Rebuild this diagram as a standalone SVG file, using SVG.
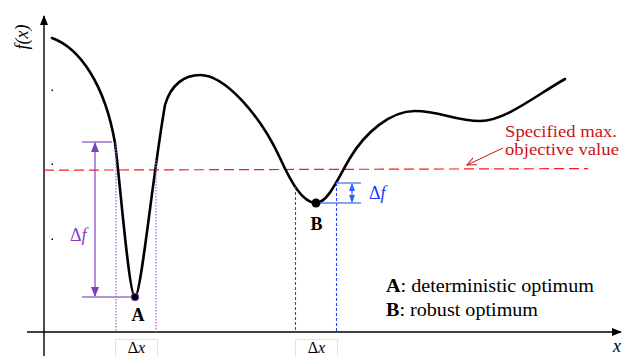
<svg xmlns="http://www.w3.org/2000/svg" width="622" height="356" viewBox="0 0 622 356">
<style>
text{font-family:"Liberation Serif","Times New Roman",serif;}
.it{font-style:italic;}
.b{font-weight:bold;}
.curve{fill:none;stroke:#000;stroke-width:2.6;stroke-linecap:round;}
.axis{stroke:#000;stroke-width:1.4;fill:none;}
.pdot{stroke:#9a6ad0;stroke-width:1.2;stroke-dasharray:1.5 1.5;fill:none;}
.bdash{stroke:#2a3cff;stroke-width:1.1;stroke-dasharray:3 2;fill:none;}
.box{fill:#fff;stroke:#f6dccb;stroke-width:1;}
</style>
<defs>
<marker id="ah" markerWidth="10" markerHeight="10" refX="9" refY="5" orient="auto" markerUnits="userSpaceOnUse"><path d="M0,1 L10,5 L0,9 Z" fill="#000"/></marker>
<marker id="pa" markerWidth="10" markerHeight="10" refX="9" refY="5" orient="auto-start-reverse" markerUnits="userSpaceOnUse"><path d="M0,1 L10,5 L0,9 Z" fill="#7a3fb8"/></marker>
<marker id="ba" markerWidth="8" markerHeight="8" refX="7" refY="4" orient="auto-start-reverse" markerUnits="userSpaceOnUse"><path d="M0,1 L8,4 L0,7 Z" fill="#3060ff"/></marker>
<marker id="ra" markerWidth="10" markerHeight="10" refX="9" refY="5" orient="auto" markerUnits="userSpaceOnUse"><path d="M0,1 L9,5 L0,9" fill="none" stroke="#cc1111" stroke-width="1"/></marker>
</defs>

<g id="axes">
<line class="axis" x1="44" y1="356" x2="44" y2="16" marker-end="url(#ah)"/>
<line class="axis" x1="27" y1="332" x2="621" y2="332" marker-end="url(#ah)"/>
<rect x="51.5" y="89.5" width="1.5" height="1.5" fill="#000"/>
<rect x="51.5" y="163.5" width="1.5" height="1.5" fill="#000"/>
<rect x="51.5" y="238.5" width="1.5" height="1.5" fill="#000"/>
<text class="it" x="0" y="0" font-size="18" text-anchor="middle" transform="translate(28,37) rotate(-90)">f(x)</text>
<text class="it" x="617" y="352" font-size="18" text-anchor="middle">x</text>
</g>

<g id="threshold">
<line x1="44" y1="170.2" x2="588" y2="168.6" stroke="#ff1a1a" stroke-width="1.2" stroke-dasharray="10 5"/>
<text x="505" y="137" font-size="17" fill="#cc1111" textLength="112" lengthAdjust="spacingAndGlyphs">Specified max.</text>
<text x="505" y="155" font-size="17" fill="#cc1111" textLength="114" lengthAdjust="spacingAndGlyphs">objective value</text>
</g>

<g id="connectors">
<line x1="503" y1="148" x2="467" y2="165" stroke="#cc1111" stroke-width="1" marker-end="url(#ra)"/>
</g>

<g id="curve">
<path class="curve" d="M52,38 C80,48 105,85 115,143 C120,180 129,297 135,297 C141,297 152,180 165,105 C171,84 185,75 200,75 C225,75 260,115 280,158 C290,180 302,203 316,203 C328,203 338,178 350,158 C365,133 390,111 415,111 C440,111 455,121 480,121 C505,121 535,96 565,79"/>
</g>

<g id="robustA">
<line class="pdot" x1="116" y1="143" x2="116" y2="332"/>
<line class="pdot" x1="156" y1="160" x2="156" y2="332"/>
<line x1="82" y1="142" x2="112" y2="142" stroke="#a07ad0" stroke-width="1.6"/>
<line x1="82" y1="297" x2="135" y2="297" stroke="#9b6fcc" stroke-width="1.6"/>
<line x1="95" y1="143" x2="95" y2="296" stroke="#8a50c4" stroke-width="1.3" marker-start="url(#pa)" marker-end="url(#pa)"/>
<text x="70" y="241" font-size="18" fill="#8040b8">Δ<tspan class="it">f</tspan></text>
<circle cx="135" cy="297" r="3.8" fill="#000" stroke="#7a3fb8" stroke-width="1"/>
<text class="b" x="138" y="321" font-size="18" text-anchor="middle">A</text>
</g>

<g id="robustB">
<line class="bdash" x1="295.5" y1="187" x2="295.5" y2="332"/>
<line class="bdash" x1="336.5" y1="183" x2="336.5" y2="332"/>
<line x1="336" y1="183" x2="361" y2="183" stroke="#5a80ff" stroke-width="1.4"/>
<line x1="316" y1="203" x2="361" y2="203" stroke="#5a80ff" stroke-width="1.4"/>
<line x1="352" y1="184" x2="352" y2="202" stroke="#3060ff" stroke-width="1.2" marker-start="url(#ba)" marker-end="url(#ba)"/>
<text x="369" y="199" font-size="18" fill="#2233ff">Δ<tspan class="it">f</tspan></text>
<circle cx="316" cy="203" r="4.5" fill="#000"/>
<text class="b" x="316.5" y="230" font-size="18" text-anchor="middle">B</text>
</g>

<g id="dx1">
<rect class="box" x="115.5" y="339.5" width="42" height="24"/>
<text x="136.5" y="353" font-size="16" text-anchor="middle">Δ<tspan class="it">x</tspan></text>
</g>
<g id="dx2">
<rect class="box" x="295.5" y="339.5" width="42" height="24"/>
<text x="316.5" y="353" font-size="16" text-anchor="middle">Δ<tspan class="it">x</tspan></text>
</g>

<g id="legend">
<text x="386" y="292" font-size="18" textLength="208" lengthAdjust="spacingAndGlyphs"><tspan class="b">A</tspan>: deterministic optimum</text>
<text x="386" y="316" font-size="18" textLength="152" lengthAdjust="spacingAndGlyphs"><tspan class="b">B</tspan>: robust optimum</text>
</g>
</svg>
